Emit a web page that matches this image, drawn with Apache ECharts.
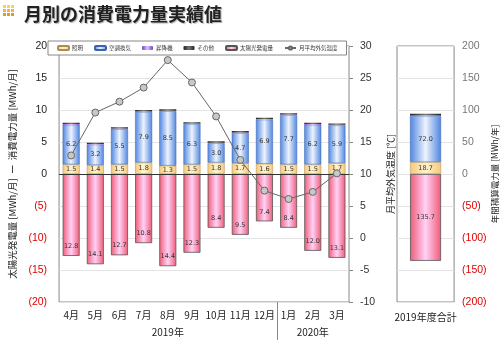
<!DOCTYPE html>
<html><head><meta charset="utf-8">
<script src="https://cdn.jsdelivr.net/npm/echarts@6/dist/echarts.min.js"></script>
<style>html,body{margin:0;padding:0;background:#fff}#c{width:500px;height:340px}</style>
</head><body><div id="c"></div>
<script>
const months = ['4月','5月','6月','7月','8月','9月','10月','11月','12月','1月','2月','3月'];
const yearLabels = ['','','','','2019年','','','','','','2020年',''];
const lighting = [1.5,1.4,1.5,1.8,1.3,1.5,1.8,1.7,1.6,1.5,1.5,1.7];
const hvac = [6.2,3.2,5.5,7.9,8.5,6.3,3.0,4.7,6.9,7.7,6.2,5.9];
const elevator = [0.1,0.1,0.1,0.1,0.1,0.1,0.1,0.1,0.1,0.1,0.1,0.1];
const other = [0.2,0.2,0.2,0.2,0.2,0.2,0.2,0.2,0.2,0.2,0.2,0.2];
const solar = [12.8,14.1,12.7,10.8,14.4,12.3,8.4,9.5,7.4,8.4,12.0,13.1];
const temperature = [12.9,19.6,21.3,23.5,27.8,24.3,19.0,12.2,7.4,6.1,7.2,10.1];
const totalCategory = ['2019年度合計'];
const totalLighting = [18.7];
const totalHvac = [72.0];
const totalElevator = [1.2];
const totalOther = [2.4];
const totalSolar = [135.7];

const F = "'Liberation Sans',Arial,sans-serif";
const J = "'Noto Sans CJK JP',sans-serif";
function grad(edge, mid){
  return new echarts.graphic.LinearGradient(0,0,1,0,[
    {offset:0,color:edge},{offset:0.5,color:mid},{offset:1,color:edge}]);
}
const cLight = grad('#f5c878','#fff4cf');
const cHvac = grad('#4f86e0','#eef3fd');
const cElev = grad('#7a3fd0','#d8c4f5');
const cOther = grad('#222','#777');
const cSolar = grad('#f05a78','#ffd2f6');
const fmt = p => Math.abs(p.value).toFixed(1);
const segLabel = {show:true, position:'inside', formatter:fmt, fontSize:6.5, color:'#333', fontFamily:'DejaVu Sans'};
const negColor = (v)=> v < 0 ? '#e00000' : '#222';
const negFmt = v => v < 0 ? '(' + (-v) + ')' : String(v);

const chart = echarts.init(document.getElementById('c'), null, {renderer:'canvas'});
chart.setOption({
  backgroundColor:'#fff',
  animation:false,
  title:{text:'月別の消費電力量実績値', left:19, top:0, textStyle:{fontSize:18, fontWeight:'bold', color:'#222', fontFamily:J, textShadowColor:'rgba(0,0,0,0.3)', textShadowBlur:1, textShadowOffsetX:1, textShadowOffsetY:1}},
  legend:{
    data:['照明','空調換気','昇降機','その他','太陽光発電量','月平均外気温度'],
    left:48, top:41, padding:[4,9,4,9], itemGap:11, itemWidth:11, itemHeight:4,
    borderColor:'#888', borderWidth:1, backgroundColor:'#fff', borderRadius:0,
    textStyle:{fontSize:5.5, color:'#333', fontFamily:J, padding:[0,0,0,-2]}
  },
  grid:[
    {left:48, top:46, width:301, height:256, show:true, borderColor:'#888', borderWidth:1, backgroundColor:'#fff'},
    {left:397, top:46, width:60, height:256, show:true, borderColor:'#888', borderWidth:1, backgroundColor:'#fff'}
  ],
  xAxis:[
    {type:'category', gridIndex:0, data:months, axisLine:{show:false, onZero:false}, axisTick:{show:false},
     axisLabel:{fontSize:10, color:'#222', fontFamily:J, margin:8, interval:0}},
    {type:'category', gridIndex:0, data:yearLabels, position:'bottom', axisLine:{show:false, onZero:false},
     axisTick:{show:false},
     axisLabel:{fontSize:10, color:'#222', fontFamily:J, margin:25, interval:0}},
    {type:'category', gridIndex:1, data:totalCategory, axisLine:{show:false, onZero:false}, axisTick:{show:false},
     axisLabel:{fontSize:10, color:'#222', fontFamily:J, margin:10}}
  ],
  yAxis:[
    {type:'value', gridIndex:0, min:-20, max:20, interval:5, position:'left',
     name:'太陽光発電量 [MWh/月]  ー  消費電力量 [MWh/月]', nameLocation:'middle', nameRotate:90, nameGap:37,
     nameTextStyle:{fontSize:9.5, color:'#222', fontFamily:J},
     axisLine:{show:false}, axisTick:{show:false},
     splitLine:{lineStyle:{color:'#e4e4e4'}},
     axisLabel:{fontSize:10.5, fontFamily:F, margin:12, formatter:negFmt, color:negColor}},
    {type:'value', gridIndex:0, min:-10, max:30, interval:5, position:'right',
     name:'月平均外気温度 [℃]', nameLocation:'middle', nameRotate:90, nameGap:19,
     nameTextStyle:{fontSize:9, color:'#222', fontFamily:J},
     axisLine:{show:false}, axisTick:{show:true, length:4, lineStyle:{color:'#888'}},
     splitLine:{show:false},
     axisLabel:{fontSize:10.5, fontFamily:F, margin:11, color:'#333'}},
    {type:'value', gridIndex:1, min:-200, max:200, interval:50, position:'right',
     name:'年間積算電力量 [MWh/年]', nameLocation:'middle', nameRotate:90, nameGap:30,
     nameTextStyle:{fontSize:8.5, color:'#222', fontFamily:J},
     axisLine:{show:false}, axisTick:{show:false},
     splitLine:{lineStyle:{color:'#e4e4e4'}},
     axisLabel:{fontSize:10.5, fontFamily:F, margin:8, formatter:negFmt, color:(v)=> v<0?'#e00000':'#777'}}
  ],
  series:[
    {name:'照明', type:'bar', stack:'m', xAxisIndex:0, yAxisIndex:0, barWidth:17, data:lighting,
     itemStyle:{color:cLight, borderColor:'#b08a50', borderWidth:0.5}, label:segLabel},
    {name:'空調換気', type:'bar', stack:'m', xAxisIndex:0, yAxisIndex:0, data:hvac,
     itemStyle:{color:cHvac, borderColor:'#3a64b0', borderWidth:0.5}, label:segLabel},
    {name:'昇降機', type:'bar', stack:'m', xAxisIndex:0, yAxisIndex:0, data:elevator,
     itemStyle:{color:cElev}},
    {name:'その他', type:'bar', stack:'m', xAxisIndex:0, yAxisIndex:0, data:other,
     itemStyle:{color:cOther}},
    {name:'太陽光発電量', type:'bar', stack:'m', xAxisIndex:0, yAxisIndex:0, data:solar.map(v=>-v),
     itemStyle:{color:cSolar, borderColor:'#555', borderWidth:0.8},
     label:Object.assign({}, segLabel, {position:'insideBottom', distance:6}),
     markLine:{silent:true, symbol:'none', label:{show:false}, data:[{yAxis:0}], lineStyle:{color:'#333', width:1, type:'solid'}}},
    {name:'月平均外気温度', type:'line', xAxisIndex:0, yAxisIndex:1, data:temperature,
     symbol:'circle', symbolSize:7, lineStyle:{color:'#666', width:1},
     itemStyle:{color:'#c8c8c8', borderColor:'#666', borderWidth:1}, z:5},
    {name:'照明', type:'bar', stack:'t', xAxisIndex:2, yAxisIndex:2, barWidth:31, data:totalLighting,
     itemStyle:{color:cLight, borderColor:'#b08a50', borderWidth:0.5}, label:segLabel},
    {name:'空調換気', type:'bar', stack:'t', xAxisIndex:2, yAxisIndex:2, data:totalHvac,
     itemStyle:{color:cHvac, borderColor:'#3a64b0', borderWidth:0.5}, label:segLabel},
    {name:'昇降機', type:'bar', stack:'t', xAxisIndex:2, yAxisIndex:2, data:totalElevator,
     itemStyle:{color:cElev}},
    {name:'その他', type:'bar', stack:'t', xAxisIndex:2, yAxisIndex:2, data:totalOther,
     itemStyle:{color:cOther}},
    {name:'太陽光発電量', type:'bar', stack:'t', xAxisIndex:2, yAxisIndex:2, data:totalSolar.map(v=>-v),
     itemStyle:{color:cSolar, borderColor:'#555', borderWidth:0.8}, label:segLabel}
  ]
});
// decorations: title icon dots and the year separator under the month axis
const dots = []; const dotCols = ['#f7d35a','#f3b43c','#e39a2a'];
for (let r=0;r<3;r++) for (let c=0;c<3;c++) dots.push({type:'rect', shape:{x:3+c*4,y:5+r*4,width:3,height:3}, style:{fill:dotCols[r]}});
const xa = chart.convertToPixel({xAxisIndex:0}, months[8]);
const xb = chart.convertToPixel({xAxisIndex:0}, months[9]);
const yBottom = chart.convertToPixel({yAxisIndex:0}, -20);
const sepX = Math.round((xa + xb) / 2) + 0.5;
chart.setOption({graphic:[
  {type:'group', children:dots},
  {type:'line', shape:{x1:sepX, y1:yBottom, x2:sepX, y2:340}, style:{stroke:'#888', lineWidth:1}}
]});
</script></body></html>
